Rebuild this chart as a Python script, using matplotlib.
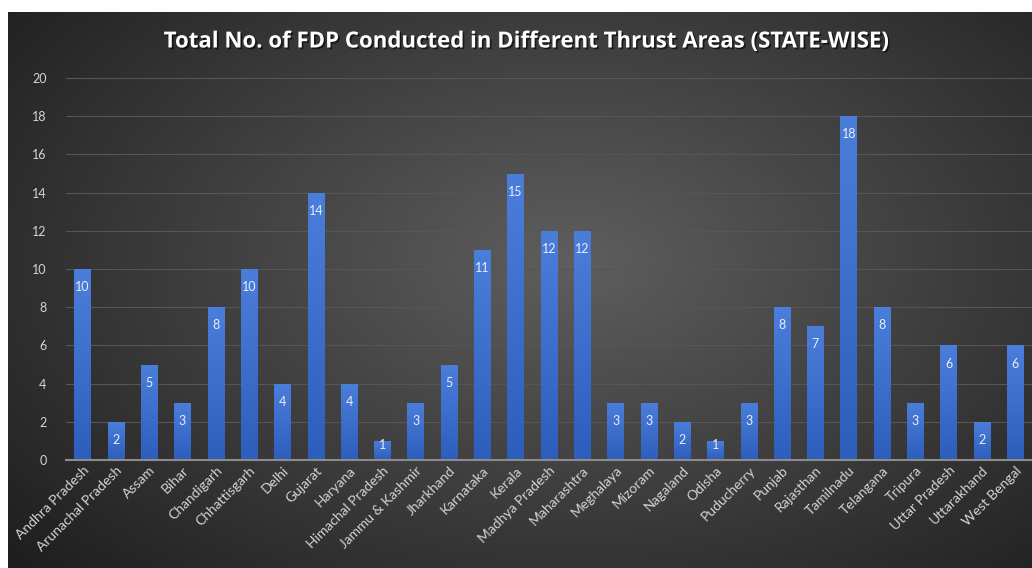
import numpy as np
import matplotlib
matplotlib.use("Agg")
import matplotlib.pyplot as plt
import matplotlib.patheffects as pe

states = ["Andhra Pradesh", "Arunachal Pradesh", "Assam", "Bihar", "Chandigarh",
          "Chhattisgarh", "Delhi", "Gujarat", "Haryana", "Himachal Pradesh",
          "Jammu & Kashmir", "Jharkhand", "Karnataka", "Kerala", "Madhya Pradesh",
          "Maharashtra", "Meghalaya", "Mizoram", "Nagaland", "Odisha", "Puducherry",
          "Punjab", "Rajasthan", "Tamilnadu", "Telangana", "Tripura", "Uttar Pradesh",
          "Uttarakhand", "West Bengal"]
counts = [10, 2, 5, 3, 8, 10, 4, 14, 4, 1, 3, 5, 11, 15, 12, 12, 3, 3, 2, 1, 3,
          8, 7, 18, 8, 3, 6, 2, 6]
yticks = [0, 2, 4, 6, 8, 10, 12, 14, 16, 18, 20]
title = "Total No. of FDP Conducted in Different Thrust Areas (STATE-WISE)"

W, H = 1032, 568
fig = plt.figure(figsize=(W / 100, H / 100), dpi=100, facecolor="white")

# background panel with radial gradient
bx0 = 8 / W
btop = 1 - 12 / H
bg = fig.add_axes([bx0, 0, 1 - bx0, btop], zorder=-10)
ny, nx = 300, 600
yy, xx = np.mgrid[0:1:ny * 1j, 0:1:nx * 1j]
d = np.sqrt(((xx - 0.55) / 0.75) ** 2 + ((yy - 0.55) / 0.85) ** 2)
v = np.clip(0.37 - 0.26 * d, 0.12, 0.4)
img = np.dstack([v, v, v])
bg.imshow(img, aspect="auto", extent=[0, 1, 0, 1], origin="lower")
bg.set_axis_off()

ax = fig.add_axes([66 / W, 1 - 460 / H, 1 - 66 / W, (460 - 78) / H])
ax.set_facecolor("none")
x = np.arange(len(states))
bars = ax.bar(x, counts, width=0.5, color="#3a6cc9", zorder=3)

# vertical gradient on each bar
grad = np.linspace(0, 1, 100).reshape(-1, 1)
top_c = np.array([0x4b, 0x7e, 0xda]) / 255
bot_c = np.array([0x2e, 0x5e, 0xbc]) / 255
gimg = bot_c[None, None, :] * (1 - grad[:, :, None]) + top_c[None, None, :] * grad[:, :, None]
for b in bars:
    x0, y0 = b.get_x(), b.get_y()
    w, h = b.get_width(), b.get_height()
    im = ax.imshow(gimg, extent=[x0, x0 + w, y0, y0 + h], origin="lower",
                   aspect="auto", zorder=4)
    im.set_clip_path(b)

for xi, c in zip(x, counts):
    ly = c - 0.95 if c >= 2 else c - 0.24
    ax.text(xi, ly, str(c), ha="center", va="center", color="#e8eefa",
            fontsize=9, family="Lato", zorder=6)

ax.set_xlim(-0.5, len(states) - 0.5)
ax.set_ylim(0, 20)
ax.set_yticks(yticks)
ax.set_xticks(x)
ax.set_xticklabels(states, rotation=45, ha="right", va="top",
                   rotation_mode="anchor", fontsize=10, color="#d4d4d4",
                   family="Lato")
ax.tick_params(axis="y", labelsize=9, labelcolor="#d4d4d4", length=0, pad=14)
ax.tick_params(axis="x", length=0, pad=3)
for lab in ax.get_yticklabels():
    lab.set_family("Lato")
ax.grid(axis="y", color="#565656", linewidth=0.8, zorder=0)
ax.set_axisbelow(True)
for s in ["top", "right", "left"]:
    ax.spines[s].set_visible(False)
ax.spines["bottom"].set_color("#8c8c8c")
ax.spines["bottom"].set_linewidth(1.5)
ax.spines["bottom"].set_zorder(5)

fig.text(527 / W, 1 - 42 / H, title, ha="center", va="center",
         color="white", fontsize=16, fontweight="bold", family="Open Sans",
         path_effects=[pe.withSimplePatchShadow(offset=(1.2, -1.2),
                                                shadow_rgbFace="black", alpha=0.6)])

fig.savefig("out.png", dpi=100, facecolor="white")
